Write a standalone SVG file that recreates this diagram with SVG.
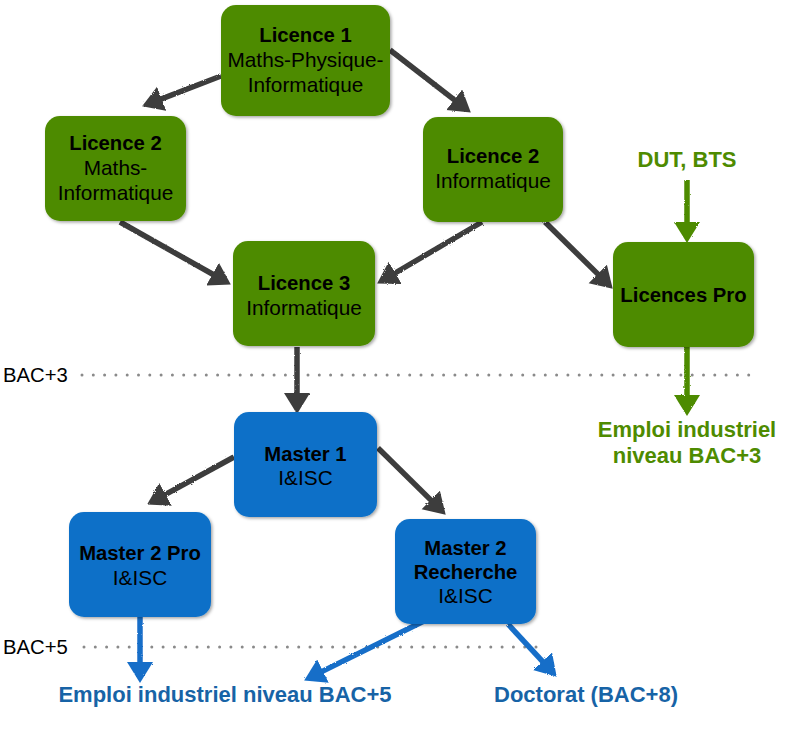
<svg xmlns="http://www.w3.org/2000/svg" width="802" height="739" viewBox="0 0 802 739">
<style>
  .g { fill: #4E8B00; }
  .b { fill: #0A70C8; }
  .box { filter: url(#sh); }
  text { font-family: "Liberation Sans", Arial, sans-serif; font-size: 20.8px; text-anchor: middle; fill: #000; }
  .t { font-weight: bold; font-size: 20.3px; }
  .lbl { font-weight: bold; font-size: 22px; }
  .lg { fill: #4E8B00; }
  .lb { fill: #1763A6; }
  .bac { text-anchor: start; font-size: 20.3px; }
  .dot { stroke: #8a8a8a; stroke-width: 3; stroke-linecap: round; stroke-dasharray: 0 11.3; fill: none; }
  .ar { stroke-width: 5.5; fill: none; filter: url(#rough); }
  .ak { stroke: #3c3c3c; }
  .ag { stroke: #4E8B00; }
  .ab { stroke: #176EC8; }
</style>
<defs>
  <filter id="sh" x="-10%" y="-10%" width="125%" height="125%">
    <feDropShadow dx="1.5" dy="1.5" stdDeviation="1.8" flood-color="#000" flood-opacity="0.35"/>
  </filter>
  <filter id="rough" filterUnits="userSpaceOnUse" x="0" y="0" width="802" height="739">
    <feTurbulence type="fractalNoise" baseFrequency="0.9" numOctaves="1" seed="3"/>
    <feDisplacementMap in="SourceGraphic" scale="2.5"/>
  </filter>
  <marker id="hk" markerUnits="userSpaceOnUse" markerWidth="28" markerHeight="28" refX="12" refY="13" orient="auto">
    <path d="M0,0 L21,13 L0,26 z" fill="#3c3c3c"/>
  </marker>
  <marker id="hg" markerUnits="userSpaceOnUse" markerWidth="28" markerHeight="28" refX="12" refY="13" orient="auto">
    <path d="M0,0 L21,13 L0,26 z" fill="#4E8B00"/>
  </marker>
  <marker id="hb" markerUnits="userSpaceOnUse" markerWidth="28" markerHeight="28" refX="12" refY="13" orient="auto">
    <path d="M0,0 L21,13 L0,26 z" fill="#176EC8"/>
  </marker>
</defs>

<g id="levels">
  <text class="bac" x="3" y="382">BAC+3</text>
  <line class="dot" x1="82" y1="375" x2="760" y2="375"/>
  <text class="bac" x="3" y="654">BAC+5</text>
  <line class="dot" x1="84" y1="647" x2="546" y2="647"/>
</g>

<g id="connectors">
  <line class="ar ak" x1="221" y1="76" x2="150.5" y2="103.1" marker-end="url(#hk)"/>
  <line class="ar ak" x1="390" y1="50" x2="463.7" y2="107.1" marker-end="url(#hk)"/>
  <line class="ar ak" x1="120" y1="222" x2="223" y2="280" marker-end="url(#hk)"/>
  <line class="ar ak" x1="482" y1="222" x2="384.9" y2="279" marker-end="url(#hk)"/>
  <line class="ar ak" x1="545" y1="222" x2="606.3" y2="282.4" marker-end="url(#hk)"/>
  <line class="ar ag" x1="687" y1="180" x2="687" y2="234" marker-end="url(#hg)"/>
  <line class="ar ak" x1="297" y1="347" x2="297" y2="405" marker-end="url(#hk)"/>
  <line class="ar ag" x1="687" y1="347" x2="687" y2="407" marker-end="url(#hg)"/>
  <line class="ar ak" x1="234" y1="457" x2="155" y2="500.2" marker-end="url(#hk)"/>
  <line class="ar ak" x1="378" y1="448" x2="439.3" y2="508.4" marker-end="url(#hk)"/>
  <line class="ar ab" x1="140" y1="617" x2="140" y2="674" marker-end="url(#hb)"/>
  <line class="ar ab" x1="430" y1="618" x2="312.2" y2="676.4" marker-end="url(#hb)"/>
  <line class="ar ab" x1="508" y1="624" x2="550.6" y2="670.1" marker-end="url(#hb)"/>
</g>

<g id="licence1">
  <rect class="box g" x="221" y="5" width="169" height="111" rx="15"/>
  <text class="t" x="305.5" y="42">Licence 1</text>
  <text x="305.5" y="67">Maths-Physique-</text>
  <text x="305.5" y="92">Informatique</text>
</g>
<g id="licence2-mi">
  <rect class="box g" x="45" y="116" width="141" height="105" rx="15"/>
  <text class="t" x="115.5" y="150">Licence 2</text>
  <text x="115.5" y="175">Maths-</text>
  <text x="115.5" y="200">Informatique</text>
</g>
<g id="licence2-info">
  <rect class="box g" x="423" y="117" width="140" height="105" rx="15"/>
  <text class="t" x="493" y="163">Licence 2</text>
  <text x="493" y="188">Informatique</text>
</g>
<g id="licence3">
  <rect class="box g" x="233" y="241" width="142" height="105" rx="15"/>
  <text class="t" x="304" y="290">Licence 3</text>
  <text x="304" y="315">Informatique</text>
</g>
<g id="licences-pro">
  <rect class="box g" x="613" y="242" width="141" height="105" rx="15"/>
  <text class="t" x="683.5" y="302">Licences Pro</text>
</g>
<g id="dut-bts">
  <text class="lbl lg" x="687" y="167">DUT, BTS</text>
</g>
<g id="emploi-bac3">
  <text class="lbl lg" x="687" y="437">Emploi industriel</text>
  <text class="lbl lg" x="687" y="463">niveau BAC+3</text>
</g>
<g id="master1">
  <rect class="box b" x="234" y="412" width="143" height="105" rx="15"/>
  <text class="t" x="305.5" y="461">Master 1</text>
  <text x="305.5" y="485">I&amp;ISC</text>
</g>
<g id="master2-pro">
  <rect class="box b" x="69" y="512" width="142" height="105" rx="15"/>
  <text class="t" x="140" y="560">Master 2 Pro</text>
  <text x="140" y="585">I&amp;ISC</text>
</g>
<g id="master2-recherche">
  <rect class="box b" x="395" y="519" width="141" height="105" rx="15"/>
  <text class="t" x="465.5" y="555">Master 2</text>
  <text class="t" x="465.5" y="579">Recherche</text>
  <text x="465.5" y="603">I&amp;ISC</text>
</g>
<g id="emploi-bac5">
  <text class="lbl lb" x="225" y="702">Emploi industriel niveau BAC+5</text>
</g>
<g id="doctorat">
  <text class="lbl lb" x="586" y="702">Doctorat (BAC+8)</text>
</g>
</svg>
